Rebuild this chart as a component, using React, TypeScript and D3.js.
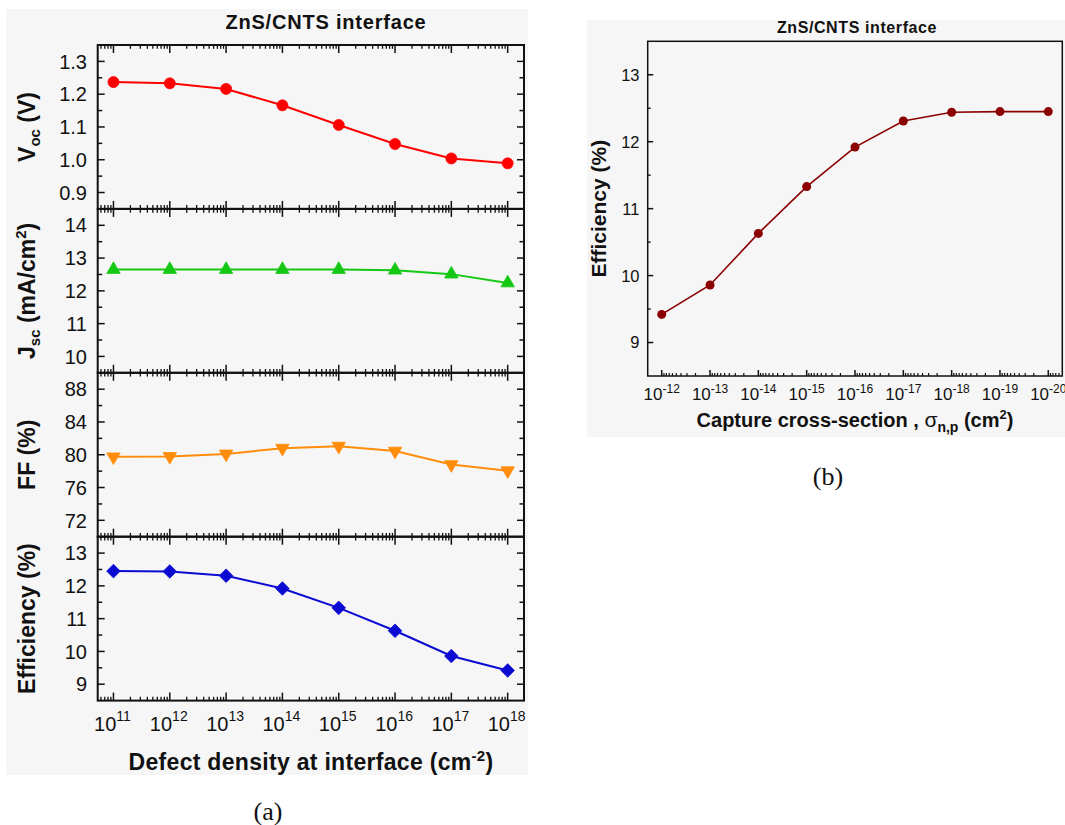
import React, { useEffect } from "react";
import * as d3 from "d3";

// ---- (a) device parameters vs. interface defect density ----
const defectExponents = [11, 12, 13, 14, 15, 16, 17, 18];
const vocValues = [1.237, 1.233, 1.216, 1.166, 1.106, 1.048, 1.004, 0.989];
const jscValues = [12.65, 12.65, 12.65, 12.65, 12.65, 12.63, 12.51, 12.24];
const ffValues = [79.75, 79.8, 80.1, 80.8, 81.05, 80.45, 78.8, 78.05];
const effValues = [12.45, 12.44, 12.31, 11.92, 11.33, 10.63, 9.86, 9.42];

const vocTicks = [0.9, 1.0, 1.1, 1.2, 1.3];
const jscTicks = [10, 11, 12, 13, 14];
const ffTicks = [72, 76, 80, 84, 88];
const effTicks = [9, 10, 11, 12, 13];

// ---- (b) efficiency vs. capture cross-section ----
const captureExponents = [-12, -13, -14, -15, -16, -17, -18, -19, -20];
const captureEff = [9.42, 9.86, 10.63, 11.33, 11.92, 12.31, 12.44, 12.45, 12.45];
const captureEffTicks = [9, 10, 11, 12, 13];

const FONT = "'Liberation Sans', Arial, Helvetica, sans-serif";
const SERIF = "'Liberation Serif', 'Times New Roman', serif";

type Marker = "circle" | "triUp" | "triDown" | "diamond";

function markerPath(kind: Marker): string {
  if (kind === "circle") return d3.symbol(d3.symbolCircle, 95)() as string;
  if (kind === "triUp" || kind === "triDown") return d3.symbol(d3.symbolTriangle, 78)() as string;
  const r = 6.8;
  return `M0,${-r}L${r},0L0,${r}L${-r},0Z`;
}

function logMinorTicks(lo: number, hi: number): number[] {
  const a = Math.min(lo, hi);
  const b = Math.max(lo, hi);
  const out: number[] = [];
  for (let e = Math.floor(Math.log10(a)) - 1; e <= Math.ceil(Math.log10(b)); e++) {
    for (let k = 2; k <= 9; k++) {
      const v = k * Math.pow(10, e);
      if (v > a && v < b) out.push(v);
    }
  }
  return out;
}

export default function App() {
  useEffect(() => {
    document.body.style.margin = "0";
  }, []);

  // ---------- panel (a) layout ----------
  const aX0 = 97.7;
  const aX1 = 524;
  const aTop = 45;
  const aPanelH = 163.9;
  const xA = d3.scaleLog().domain([Math.pow(10, 10.72), Math.pow(10, 18.29)]).range([aX0, aX1]);
  const aMajors = defectExponents.map((e) => Math.pow(10, e));
  const aMinors = logMinorTicks(Math.pow(10, 10.72), Math.pow(10, 18.29));

  const panels = [
    { values: vocValues, domain: [0.85, 1.35], ticks: vocTicks, step: 0.05, fmt: d3.format(".1f"), color: "#ff0000", marker: "circle" as Marker },
    { values: jscValues, domain: [9.5, 14.5], ticks: jscTicks, step: 0.5, fmt: d3.format("d"), color: "#14c814", marker: "triUp" as Marker },
    { values: ffValues, domain: [70, 90], ticks: ffTicks, step: 2, fmt: d3.format("d"), color: "#ff8c0a", marker: "triDown" as Marker },
    { values: effValues, domain: [8.5, 13.5], ticks: effTicks, step: 0.5, fmt: d3.format("d"), color: "#0a0ad2", marker: "diamond" as Marker },
  ];

  // ---------- panel (b) layout ----------
  const bX0 = 647.7;
  const bX1 = 1062.3;
  const bY0 = 41.3;
  const bY1 = 376;
  const xB = d3.scaleLog().domain([Math.pow(10, -11.71), Math.pow(10, -20.29)]).range([bX0, bX1]);
  const yB = d3.scaleLinear().domain([8.5, 13.5]).range([bY1, bY0]);
  const bMajors = captureExponents.map((e) => Math.pow(10, e));
  const bMinors = logMinorTicks(Math.pow(10, -20.29), Math.pow(10, -11.71));
  const bMinorY = d3
    .range(8.5, 13.5001, 0.5)
    .filter((v) => !captureEffTicks.some((t) => Math.abs(t - v) < 1e-6) && v > 8.5 && v < 13.5);

  const lineB = d3
    .line<number>()
    .x((_, i) => xB(Math.pow(10, captureExponents[i])))
    .y((d) => yB(d));

  return (
    <svg width={1065} height={825} style={{ display: "block", background: "#ffffff" }} fontFamily={FONT}>
      {/* backgrounds */}
      <rect x={6} y={9} width={522} height={766} fill="#f6f6f6" />
      <rect x={587} y={20} width={478} height={417} fill="#f6f6f6" />

      {/* ================= (a) ================= */}
      <text x={326} y={28.5} textAnchor="middle" fontSize={20} fontWeight="bold" letterSpacing={0.8} fill="#111">
        ZnS/CNTS interface
      </text>

      {panels.map((p, pi) => {
        const y0 = aTop + pi * aPanelH;
        const y1 = y0 + aPanelH;
        const y = d3.scaleLinear().domain(p.domain).range([y1, y0]);
        const line = d3
          .line<number>()
          .x((_, i) => xA(Math.pow(10, defectExponents[i])))
          .y((d) => y(d));
        const allY = d3
          .range(p.domain[0], p.domain[1] + p.step * 0.01, p.step)
          .filter((v) => v > p.domain[0] + 1e-9 && v < p.domain[1] - 1e-9);
        const isMajor = (v: number) => p.ticks.some((t) => Math.abs(t - v) < 1e-6);
        const mPath = markerPath(p.marker);
        return (
          <g key={pi}>
            {/* y ticks, left and right, inward */}
            {allY.map((v, i) => {
              const len = isMajor(v) ? 7 : 4.5;
              return (
                <g key={i} stroke="#111" strokeWidth={1.5}>
                  <line x1={aX0} x2={aX0 + len} y1={y(v)} y2={y(v)} />
                  <line x1={aX1} x2={aX1 - len} y1={y(v)} y2={y(v)} />
                </g>
              );
            })}
            {p.ticks.map((t, i) => (
              <text key={i} x={87} y={y(t)} dy="0.36em" textAnchor="end" fontSize={20} fill="#111">
                {p.fmt(t)}
              </text>
            ))}
            {/* x ticks on top and bottom edges, inward */}
            {aMajors.map((v, i) => (
              <g key={"M" + i} stroke="#111" strokeWidth={1.5}>
                <line x1={xA(v)} x2={xA(v)} y1={y0} y2={y0 + 8} />
                <line x1={xA(v)} x2={xA(v)} y1={y1} y2={y1 - 8} />
              </g>
            ))}
            {aMinors.map((v, i) => (
              <g key={"m" + i} stroke="#111" strokeWidth={1.3}>
                <line x1={xA(v)} x2={xA(v)} y1={y0} y2={y0 + 3.8} />
                <line x1={xA(v)} x2={xA(v)} y1={y1} y2={y1 - 3.8} />
              </g>
            ))}
            {/* data */}
            <path d={line(p.values) as string} fill="none" stroke={p.color} strokeWidth={2} />
            {p.values.map((v, i) => (
              <path
                key={i}
                d={mPath}
                transform={`translate(${xA(Math.pow(10, defectExponents[i]))},${y(v)})${p.marker === "triDown" ? " rotate(180)" : ""}`}
                fill={p.color}
                stroke={p.color}
                strokeWidth={0.8}
              />
            ))}
            <rect x={aX0} y={y0} width={aX1 - aX0} height={aPanelH} fill="none" stroke="#111" strokeWidth={2} />
          </g>
        );
      })}

      {/* x tick labels (a) */}
      {defectExponents.map((e, i) => (
        <text key={i} x={xA(Math.pow(10, e)) - 1} y={731} textAnchor="middle" fontSize={20} fill="#111">
          10
          <tspan dy={-10} fontSize={14}>
            {e}
          </tspan>
        </text>
      ))}

      {/* y axis titles (a) */}
      {[
        <>
          V<tspan dy={5} fontSize={15}>oc</tspan>
          <tspan dy={-5}> (V)</tspan>
        </>,
        <>
          J<tspan dy={5} fontSize={15}>sc</tspan>
          <tspan dy={-5}> (mA/cm</tspan>
          <tspan dy={-9} fontSize={15}>2</tspan>
          <tspan dy={9}>)</tspan>
        </>,
        <>FF (%)</>,
        <>Efficiency (%)</>,
      ].map((content, i) => {
        const cy = aTop + (i + 0.5) * aPanelH;
        return (
          <text
            key={i}
            transform={`translate(35,${cy}) rotate(-90)`}
            textAnchor="middle"
            fontSize={23}
            fontWeight="bold"
            fill="#111"
          >
            {content}
          </text>
        );
      })}

      <text x={311} y={770} textAnchor="middle" fontSize={23} fontWeight="bold" letterSpacing={0.3} fill="#111">
        Defect density at interface (cm
        <tspan dy={-9} fontSize={15}>-2</tspan>
        <tspan dy={9}>)</tspan>
      </text>

      <text x={268} y={820} textAnchor="middle" fontSize={26} fontFamily={SERIF} fill="#111">
        (a)
      </text>

      {/* ================= (b) ================= */}
      <text x={857} y={33.3} textAnchor="middle" fontSize={16} fontWeight="bold" letterSpacing={0.6} fill="#111">
        ZnS/CNTS interface
      </text>

      {captureEffTicks.map((t, i) => (
        <g key={i}>
          <line x1={bX0} x2={bX0 + 5.5} y1={yB(t)} y2={yB(t)} stroke="#111" strokeWidth={1.5} />
          <text x={639.5} y={yB(t)} dy="0.36em" textAnchor="end" fontSize={16.5} fill="#111">
            {t}
          </text>
        </g>
      ))}
      {bMinorY.map((v, i) => (
        <line key={i} x1={bX0} x2={bX0 + 3} y1={yB(v)} y2={yB(v)} stroke="#111" strokeWidth={1.3} />
      ))}
      {bMajors.map((v, i) => (
        <g key={i}>
          <line x1={xB(v)} x2={xB(v)} y1={bY1} y2={bY1 - 6} stroke="#111" strokeWidth={1.5} />
          <text x={xB(v)} y={400} textAnchor="middle" fontSize={17} fill="#111">
            10
            <tspan dy={-7.5} fontSize={12}>
              {captureExponents[i]}
            </tspan>
          </text>
        </g>
      ))}
      {bMinors.map((v, i) => (
        <line key={i} x1={xB(v)} x2={xB(v)} y1={bY1} y2={bY1 - 3} stroke="#111" strokeWidth={1.2} />
      ))}

      <path d={lineB(captureEff) as string} fill="none" stroke="#8b0000" strokeWidth={1.6} />
      {captureEff.map((v, i) => (
        <circle key={i} cx={xB(Math.pow(10, captureExponents[i]))} cy={yB(v)} r={4.5} fill="#8b0000" />
      ))}
      <rect x={bX0} y={bY0} width={bX1 - bX0} height={bY1 - bY0} fill="none" stroke="#111" strokeWidth={1.5} />

      <text transform={`translate(606,${(bY0 + bY1) / 2}) rotate(-90)`} textAnchor="middle" fontSize={21} fontWeight="bold" fill="#111">
        Efficiency (%)
      </text>

      <text x={855} y={426.7} textAnchor="middle" fontSize={20} fontWeight="bold" fill="#111">
        Capture cross-section ,{" "}
        <tspan fontWeight="normal" fontSize={21}>σ</tspan>
        <tspan dy={5} fontSize={14}>n,p</tspan>
        <tspan dy={-5}> (cm</tspan>
        <tspan dy={-8} fontSize={13}>2</tspan>
        <tspan dy={8}>)</tspan>
      </text>

      <text x={828} y={485} textAnchor="middle" fontSize={26} fontFamily={SERIF} fill="#111">
        (b)
      </text>
    </svg>
  );
}
